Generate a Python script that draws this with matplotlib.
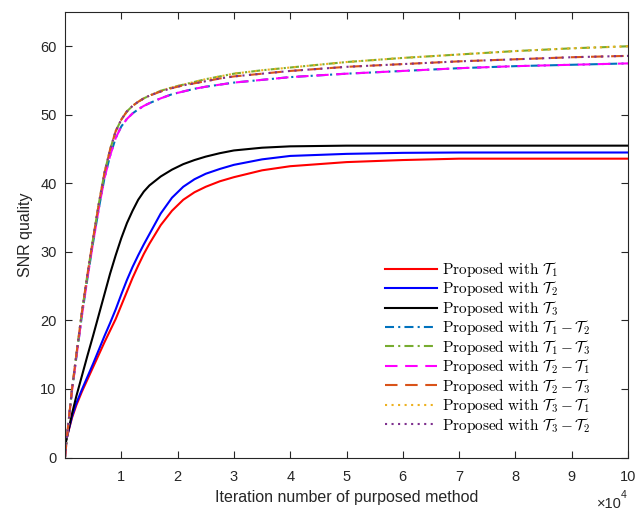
import matplotlib
matplotlib.use("Agg")
import matplotlib.pyplot as plt

plt.rcParams['font.family'] = ['Liberation Sans', 'DejaVu Sans']
plt.rcParams['mathtext.fontset'] = 'cm'
plt.rcParams['lines.scale_dashes'] = False

# iteration numbers
iters = [0, 350, 1250, 2000, 3000, 4000, 5000, 6000, 7000, 8000, 9000, 10000,
         11000, 12000, 13000, 14000, 15000, 17000, 19000, 21000, 23000, 25000,
         27500, 30000, 35000, 40000, 50000, 60000, 70000, 80000, 90000, 100000]

snr_T1 = [2.0, 3.0, 5.8, 7.6, 9.6, 11.4, 13.2, 15.0, 16.8, 18.5, 20.2, 22.2,
          24.2, 26.2, 28.0, 29.7, 31.2, 33.9, 36.0, 37.6, 38.7, 39.5,
          40.3, 40.9, 41.9, 42.5, 43.1, 43.4, 43.6, 43.6, 43.6, 43.6]
snr_T2 = [2.0, 3.0, 6.0, 7.9, 9.9, 11.8, 13.7, 15.7, 17.7, 19.6, 21.6, 23.8,
          25.9, 27.8, 29.5, 31.1, 32.6, 35.6, 37.9, 39.5, 40.6, 41.4,
          42.1, 42.7, 43.5, 44.0, 44.3, 44.45, 44.5, 44.5, 44.5, 44.5]
snr_T3 = [1.5, 3.0, 6.4, 8.9, 11.9, 14.9, 17.8, 20.8, 23.8, 26.8, 29.5, 32.0,
          34.2, 36.0, 37.6, 38.8, 39.7, 41.0, 42.0, 42.8, 43.4, 43.9,
          44.4, 44.8, 45.2, 45.4, 45.5, 45.5, 45.5, 45.5, 45.5, 45.5]
snr_T1_T2 = [0.0, 3.0, 9.8, 14.5, 20.7, 26.2, 31.4, 36.3, 40.7, 44.0, 46.6, 48.3,
             49.4, 50.2, 50.8, 51.3, 51.7, 52.4, 53.0, 53.4, 53.8, 54.1,
             54.4, 54.7, 55.1, 55.5, 56.0, 56.4, 56.8, 57.1, 57.3, 57.5]
snr_T1_T3 = [0.0, 3.0, 10.0, 14.9, 21.2, 26.8, 32.0, 37.0, 41.5, 44.9, 47.6, 49.3,
             50.5, 51.3, 51.9, 52.4, 52.8, 53.5, 54.0, 54.4, 54.8, 55.2,
             55.6, 56.0, 56.5, 56.9, 57.7, 58.3, 58.8, 59.3, 59.7, 60.0]
snr_T2_T1 = [0.0, 3.0, 9.8, 14.5, 20.7, 26.2, 31.4, 36.3, 40.7, 44.0, 46.6, 48.3,
             49.4, 50.2, 50.8, 51.3, 51.7, 52.4, 53.0, 53.4, 53.8, 54.1,
             54.4, 54.7, 55.1, 55.5, 56.0, 56.4, 56.8, 57.1, 57.3, 57.5]
snr_T2_T3 = [0.0, 3.0, 10.0, 14.9, 21.2, 26.8, 32.0, 37.0, 41.5, 44.9, 47.6, 49.3,
             50.5, 51.3, 51.9, 52.4, 52.8, 53.4, 53.9, 54.3, 54.6, 54.9,
             55.3, 55.6, 56.0, 56.4, 57.0, 57.4, 57.8, 58.1, 58.4, 58.6]
snr_T3_T1 = [0.0, 3.0, 10.0, 14.9, 21.2, 26.8, 32.0, 37.0, 41.5, 44.9, 47.6, 49.3,
             50.5, 51.3, 51.9, 52.4, 52.8, 53.5, 54.0, 54.4, 54.8, 55.2,
             55.6, 56.0, 56.5, 56.9, 57.7, 58.3, 58.8, 59.3, 59.7, 60.0]
snr_T3_T2 = [0.0, 3.0, 10.0, 14.9, 21.2, 26.8, 32.0, 37.0, 41.5, 44.9, 47.6, 49.3,
             50.5, 51.3, 51.9, 52.4, 52.8, 53.4, 53.9, 54.3, 54.6, 54.9,
             55.3, 55.6, 56.0, 56.4, 57.0, 57.4, 57.8, 58.1, 58.4, 58.6]

labels = [r'$\mathrm{Proposed\ with\ }\mathcal{T}_1$',
          r'$\mathrm{Proposed\ with\ }\mathcal{T}_2$',
          r'$\mathrm{Proposed\ with\ }\mathcal{T}_3$',
          r'$\mathrm{Proposed\ with\ }\mathcal{T}_1-\mathcal{T}_2$',
          r'$\mathrm{Proposed\ with\ }\mathcal{T}_1-\mathcal{T}_3$',
          r'$\mathrm{Proposed\ with\ }\mathcal{T}_2-\mathcal{T}_1$',
          r'$\mathrm{Proposed\ with\ }\mathcal{T}_2-\mathcal{T}_3$',
          r'$\mathrm{Proposed\ with\ }\mathcal{T}_3-\mathcal{T}_1$',
          r'$\mathrm{Proposed\ with\ }\mathcal{T}_3-\mathcal{T}_2$']

x_ticks = [10000, 20000, 30000, 40000, 50000, 60000, 70000, 80000, 90000, 100000]
x_tick_labels = ['1', '2', '3', '4', '5', '6', '7', '8', '9', '10']
y_ticks = [0, 10, 20, 30, 40, 50, 60]

fig = plt.figure(figsize=(6.38, 5.15), dpi=100)
ax = fig.add_axes([65/638, 1-457.5/515, (628-65)/638, (457.5-12)/515])

lw = 1.5
dashdot = (0, (6.5, 3.0, 1.5, 3.0))
dashed = (0, (9.0, 5.5))
dotted = (0, (1.5, 3.2))

series = [snr_T1, snr_T2, snr_T3, snr_T1_T2, snr_T1_T3, snr_T2_T1, snr_T2_T3, snr_T3_T1, snr_T3_T2]
colors = ['#FF0000', '#0000FF', '#000000', '#0072BD', '#77AC30', '#FF00FF', '#D95319', '#EDB120', '#7E2F8E']
styles = ['-', '-', '-', dashdot, dashdot, dashed, dashed, dotted, dotted]

for s, c, ls, lab in zip(series, colors, styles, labels):
    ax.plot(iters, s, color=c, linestyle=ls, linewidth=lw, label=lab)

ax.set_xlim(0, 100000)
ax.set_ylim(0, 65)
ax.set_xticks(x_ticks)
ax.set_xticklabels(x_tick_labels)
ax.set_yticks(y_ticks)
ax.tick_params(direction='in', length=5, width=0.8, colors='#262626', labelsize=10.5,
               top=True, right=True)
ax.tick_params(axis='x', pad=9)
ax.tick_params(axis='y', pad=6)
for sp in ax.spines.values():
    sp.set_color('#262626')
    sp.set_linewidth(0.8)

ax.set_xlabel('Iteration number of purposed method', fontsize=11.5, color='#262626', labelpad=4)
ax.set_ylabel('SNR quality', fontsize=11.5, color='#262626', labelpad=5)

fig.text(597/638, 1-504/515, '×10', fontsize=10.5, color='#262626', ha='left', va='center')
fig.text(621/638, 1-495/515, '4', fontsize=7.5, color='#262626', ha='left', va='center')

leg = ax.legend(loc='upper left', bbox_to_anchor=((385-65)/563, (457.5-260)/445.5),
                frameon=False, fontsize=11, handlelength=3.4, handletextpad=0.35,
                labelspacing=0.03, borderpad=0, borderaxespad=0)

fig.savefig('out.png', dpi=100)
